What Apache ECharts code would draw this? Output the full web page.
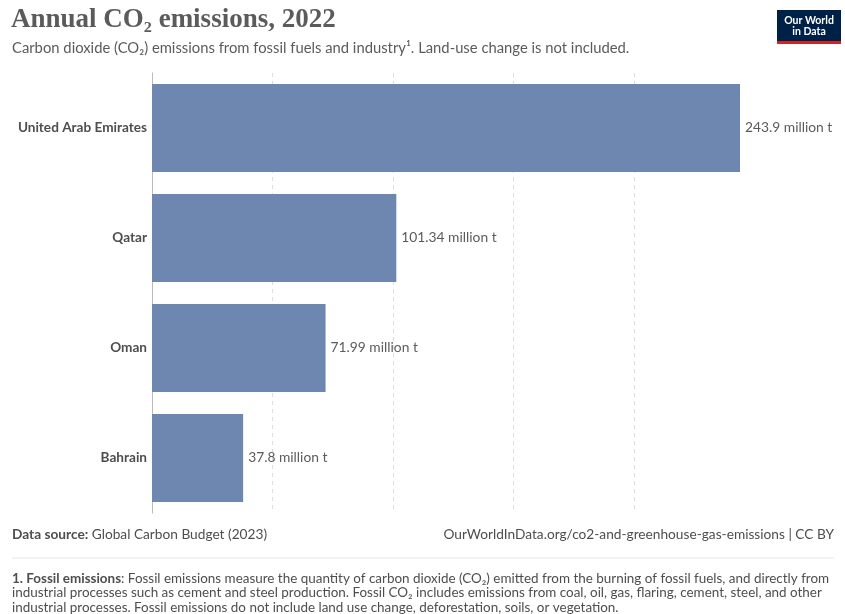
<!DOCTYPE html>
<html><head><meta charset="utf-8">
<script src="https://cdn.jsdelivr.net/npm/echarts@6/dist/echarts.min.js"></script>
<style>html,body{margin:0;padding:0;background:#fff}#c{width:845px;height:614px}</style>
</head><body><div id="c"></div>
<script>
const categories = ["United Arab Emirates", "Qatar", "Oman", "Bahrain"];
const values = [243.9, 101.34, 71.99, 37.8];
const valueLabels = ["243.9 million t", "101.34 million t", "71.99 million t", "37.8 million t"];

const chart = echarts.init(document.getElementById('c'), null, {renderer: 'canvas'});
const F = 'Lato, "Noto Sans", sans-serif';
chart.setOption({
  animation: false,
  backgroundColor: '#fff',
  grid: {left: 152, top: 73, width: 588, height: 440, containLabel: false},
  xAxis: {
    type: 'value', min: 0, max: values[0], interval: 50,
    axisLine: {show: false}, axisTick: {show: false}, axisLabel: {show: false},
    splitLine: {show: true, showMaxLine: false, lineStyle: {color: '#dddddd', type: [4, 4], width: 1}}
  },
  yAxis: {
    type: 'category', data: categories, inverse: true,
    axisLine: {show: true, lineStyle: {color: '#bbbbbb', width: 1}},
    axisTick: {show: false},
    axisLabel: {color: '#4e4e4e', fontFamily: F, fontWeight: 'bold', fontSize: 13.6, margin: 5}
  },
  series: [{
    type: 'bar', data: values, barCategoryGap: '20%',
    itemStyle: {color: '#6d87b0'},
    label: {show: true, position: 'right', distance: 5, color: '#5b5b5b', fontFamily: F, fontSize: 13.8,
      formatter: p => valueLabels[p.dataIndex]}
  }],
  graphic: [
    {type: 'text', left: 11, top: 7, style: {text: 'Annual CO₂ emissions, 2022', font: 'bold 27px "Liberation Serif", "DejaVu Serif", serif', fill: '#5b5b5b'}},
    {type: 'text', left: 12, top: 41, style: {text: 'Carbon dioxide (CO₂) emissions from fossil fuels and industry¹. Land-use change is not included.', font: '14.8px ' + F, fill: '#5b5b5b'}},
    {type: 'rect', shape: {x: 777, y: 10, width: 64, height: 31}, style: {fill: '#002147'}},
    {type: 'rect', shape: {x: 777, y: 41, width: 64, height: 3}, style: {fill: '#ce261e'}},
    {type: 'text', x: 809, y: 15, style: {text: 'Our World\nin Data', font: 'bold 10.5px ' + F, fill: '#fff', align: 'center', lineHeight: 11}},
    {type: 'text', left: 12, top: 528, style: {rich: {b: {fontFamily: F, fontWeight: 'bold', fontSize: 13.7, fill: '#4e4e4e'}, n: {fontFamily: F, fontSize: 13.7, fill: '#4e4e4e'}}, text: '{b|Data source:}{n| Global Carbon Budget (2023)}'}},
    {type: 'text', right: 11, top: 528, style: {text: 'OurWorldInData.org/co2-and-greenhouse-gas-emissions | CC BY', font: '13.7px ' + F, fill: '#4e4e4e', align: 'right'}},
    {type: 'line', shape: {x1: 12, y1: 558, x2: 834, y2: 558}, style: {stroke: '#e6e6e6', lineWidth: 1}},
    {type: 'text', left: 12, top: 571, style: {rich: {b: {fontFamily: F, fontWeight: 'bold', fontSize: 13.45, fill: '#4e4e4e', lineHeight: 14.5}, n: {fontFamily: F, fontSize: 13.45, fill: '#4e4e4e', lineHeight: 14.5}}, lineHeight: 14.5,
      text: '{b|1. Fossil emissions}{n|: Fossil emissions measure the quantity of carbon dioxide (CO₂) emitted from the burning of fossil fuels, and directly from}\n{n|industrial processes such as cement and steel production. Fossil CO₂ includes emissions from coal, oil, gas, flaring, cement, steel, and other}\n{n|industrial processes. Fossil emissions do not include land use change, deforestation, soils, or vegetation.}'}}
  ]
});
</script></body></html>
